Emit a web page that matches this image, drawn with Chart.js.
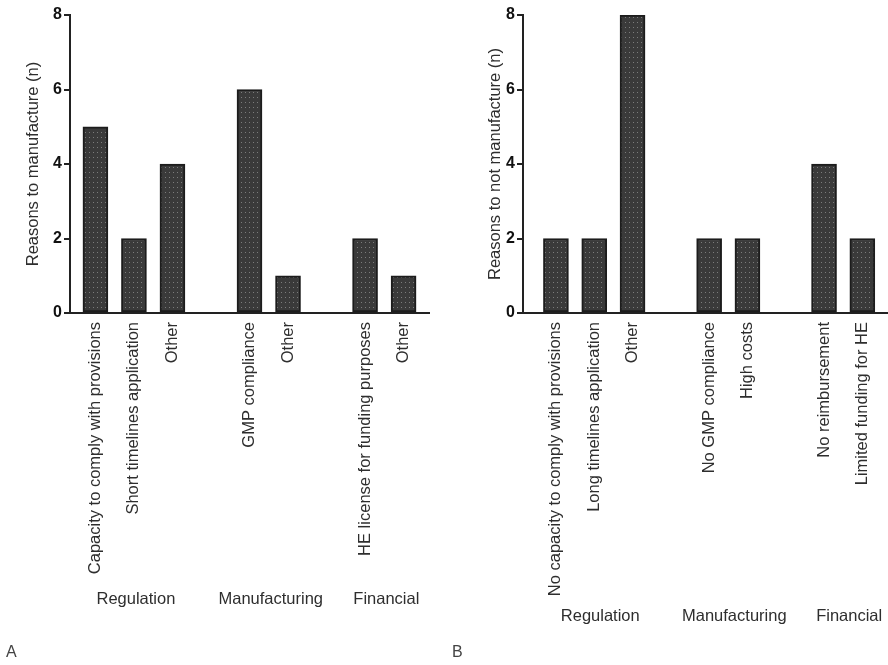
<!DOCTYPE html>
<html>
<head>
<meta charset="utf-8">
<script src="https://cdn.jsdelivr.net/npm/chart.js@4/dist/chart.umd.min.js"></script>
<style>
  html, body { margin: 0; padding: 0; background: #fff; }
  #wrap { position: relative; width: 888px; height: 665px; overflow: hidden; }
  .panel { position: absolute; top: 0; width: 444px; height: 665px; }
  #pA { left: 0; }
  #pB { left: 444px; }
  .tag { position: absolute; top: 643px; font: 16px "Liberation Sans", Arial, sans-serif; color: #444; }
</style>
</head>
<body>
<div id="wrap">
  <div class="panel" id="pA"><canvas id="cA" width="444" height="665"></canvas></div>
  <div class="panel" id="pB"><canvas id="cB" width="444" height="665"></canvas></div>
  <div class="tag" style="left:6px">A</div>
  <div class="tag" style="left:452px">B</div>
</div>
<script>
// ---- Data: panel A (reasons to manufacture) ----
const groupNames = ['Regulation', 'Manufacturing', 'Financial'];

const regulationLabelsA = ['Capacity to comply with provisions', 'Short timelines application', 'Other'];
const regulationValuesA = [5, 2, 4];
const manufacturingLabelsA = ['GMP compliance', 'Other'];
const manufacturingValuesA = [6, 1];
const financialLabelsA = ['HE license for funding purposes', 'Other'];
const financialValuesA = [2, 1];

// ---- Data: panel B (reasons to not manufacture) ----
const regulationLabelsB = ['No capacity to comply with provisions', 'Long timelines application', 'Other'];
const regulationValuesB = [2, 2, 8];
const manufacturingLabelsB = ['No GMP compliance', 'High costs'];
const manufacturingValuesB = [2, 2];
const financialLabelsB = ['No reimbursement', 'Limited funding for HE'];
const financialValuesB = [4, 2];

const yTicks = [0, 2, 4, 6, 8];

// Build slot layout: groups separated by one empty slot
function buildPanel(groupLabels, groupValues) {
  const labels = [], points = [], groups = [];
  let idx = 0;
  groupLabels.forEach((gl, g) => {
    const start = idx;
    gl.forEach((l, i) => {
      labels[idx] = l;
      points.push({ x: idx, y: groupValues[g][i] });
      idx++;
    });
    groups.push({ name: groupNames[g], from: start, to: idx - 1 });
    labels[idx] = '';
    idx++;
  });
  labels.length = idx - 1;
  return { labels, points, groups };
}

const panelA = buildPanel(
  [regulationLabelsA, manufacturingLabelsA, financialLabelsA],
  [regulationValuesA, manufacturingValuesA, financialValuesA]);
const panelB = buildPanel(
  [regulationLabelsB, manufacturingLabelsB, financialLabelsB],
  [regulationValuesB, manufacturingValuesB, financialValuesB]);

// Dotted fill pattern
function makePattern() {
  const c = document.createElement('canvas');
  c.width = 4; c.height = 5;
  const x = c.getContext('2d');
  x.fillStyle = '#3a3a3a';
  x.fillRect(0, 0, 4, 5);
  x.fillStyle = '#7c7c7c';
  x.fillRect(1, 2, 1, 1);
  return x.createPattern(c, 'repeat');
}

const FONT = '"Liberation Sans", Arial, Helvetica, sans-serif';
const TEXT = '#2e2e2e';
const AXIS = '#222222';

const groupLabelPlugin = {
  id: 'groupLabels',
  afterDraw(chart, args, opts) {
    const ctx = chart.ctx;
    const xs = chart.scales.x;
    const labels = opts.labels;
    ctx.save();
    ctx.font = '16.5px ' + FONT;
    let maxW = 0;
    labels.forEach(l => { maxW = Math.max(maxW, ctx.measureText(l).width); });
    const y = chart.chartArea.bottom + 9 + maxW + opts.gap;
    ctx.fillStyle = TEXT;
    ctx.textAlign = 'center';
    ctx.textBaseline = 'middle';
    opts.groups.forEach(g => {
      const px = (xs.getPixelForValue(g.from) + xs.getPixelForValue(g.to)) / 2 + opts.shift;
      ctx.fillText(g.name, px, y);
    });
    ctx.restore();
  }
};

function makeChart(id, panel, yTitle, opt) {
  const pattern = makePattern();
  return new Chart(document.getElementById(id), {
    type: 'bar',
    data: {
      datasets: [{
        data: panel.points,
        backgroundColor: pattern,
        borderColor: '#1c1c1c',
        borderWidth: 2,
        borderSkipped: false,
        barThickness: 25
      }]
    },
    plugins: [groupLabelPlugin],
    options: {
      responsive: false,
      animation: false,
      events: [],
      layout: { padding: { top: opt.top, right: opt.right, left: 0, bottom: 0 } },
      plugins: {
        legend: { display: false },
        tooltip: { enabled: false },
        groupLabels: { groups: panel.groups, labels: panel.labels, shift: opt.shift, gap: opt.gap }
      },
      scales: {
        x: {
          type: 'linear',
          offset: false,
          min: opt.xmin,
          max: opt.xmax,
          afterBuildTicks: s => { s.ticks = panel.labels.map((_, i) => ({ value: i })); },
          afterFit: s => { s.height = 665 - 313; s.paddingLeft = 0; s.paddingRight = 0; },
          grid: { display: false, drawTicks: false, offset: false },
          border: { display: true, color: AXIS, width: 2 },
          ticks: {
            autoSkip: false,
            maxRotation: 90,
            minRotation: 90,
            padding: 9,
            color: TEXT,
            font: { family: FONT, size: 16.5 },
            callback: v => panel.labels[v] || ''
          }
        },
        y: {
          min: 0,
          max: 8,
          afterBuildTicks: s => { s.ticks = yTicks.map(v => ({ value: v })); },
          afterFit: s => { s.width = opt.yWidth; },
          grid: { drawOnChartArea: false, drawTicks: true, tickLength: 6, color: AXIS, lineWidth: 2 },
          border: { display: true, color: AXIS, width: 2 },
          ticks: {
            padding: 2,
            color: '#111',
            font: { family: FONT, size: 16, weight: 'bold' }
          },
          title: {
            display: true,
            text: yTitle,
            color: TEXT,
            font: { family: FONT, size: 16.5 },
            padding: { top: opt.titlePad, bottom: 0 }
          }
        }
      }
    }
  });
}

makeChart('cA', panelA, 'Reasons to manufacture (n)',
  { top: 15, right: 15, xmin: -0.66, xmax: 8.66, yWidth: 70, titlePad: 24, shift: 2, gap: 25 });
makeChart('cB', panelB, 'Reasons to not manufacture (n)',
  { top: 15, right: 0, xmin: -0.86, xmax: 8.67, yWidth: 79, titlePad: 42, shift: 6, gap: 20 });
</script>
</body>
</html>
